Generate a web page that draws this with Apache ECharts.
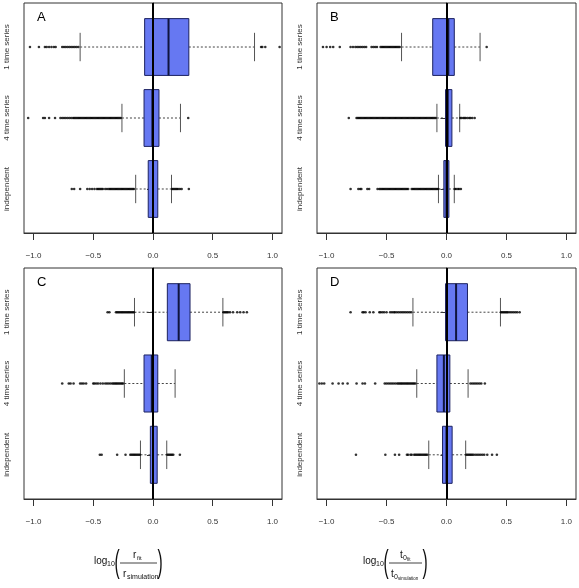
<!DOCTYPE html>
<html>
<head>
<meta charset="utf-8">
<script src="https://cdn.jsdelivr.net/npm/echarts@6/dist/echarts.min.js"></script>
<style>
  html, body { margin: 0; padding: 0; background: #fff; }
  #chart { width: 579px; height: 588px; }
</style>
</head>
<body>
<div id="chart"></div>
<script>
  // categories, top to bottom
  const categories = ['1 time series', '4 time series', 'independent']
  const panelNames = ['A', 'B', 'C', 'D']
  const xTicks = [-1, -0.5, 0, 0.5, 1]

  // box stats per category: [low whisker, Q1, median, Q3, high whisker]
  const boxA = [[-0.61, -0.07, 0.13, 0.30, 0.85], [-0.26, -0.075, -0.005, 0.05, 0.23], [-0.145, -0.04, 0.0, 0.04, 0.155]]
  const boxB = [[-0.375, -0.115, 0.015, 0.065, 0.28], [-0.08, -0.008, 0.01, 0.045, 0.11], [-0.067, -0.022, 0.0, 0.02, 0.065]]
  const boxC = [[-0.155, 0.12, 0.215, 0.31, 0.585], [-0.24, -0.075, -0.01, 0.04, 0.185], [-0.105, -0.022, 0.0, 0.035, 0.115]]
  const boxD = [[-0.28, -0.008, 0.08, 0.175, 0.45], [-0.248, -0.08, -0.022, 0.028, 0.18], [-0.148, -0.033, 0.0, 0.047, 0.16]]

  // outliers, one list per category
  const outA1 = [-1.03, -0.955, -0.905, -0.89, -0.87, -0.85, -0.83, -0.815, -0.76, -0.745, -0.73, -0.715, -0.70, -0.685, -0.67, -0.655, -0.64, -0.625, 0.905, 0.915, 0.94, 1.06]
  const outA2 = [-1.045, -0.92, -0.905, -0.87, -0.82, -0.775, -0.76, -0.745, -0.73, -0.715, -0.70, -0.685, -0.67, -0.66, -0.65, -0.64, -0.63, -0.62, -0.61, -0.60, -0.59, -0.58, -0.57, -0.56, -0.55, -0.54, -0.53, -0.52, -0.51, -0.50, -0.49, -0.48, -0.47, -0.46, -0.45, -0.44, -0.43, -0.42, -0.41, -0.40, -0.39, -0.38, -0.37, -0.36, -0.35, -0.34, -0.33, -0.32, -0.31, -0.30, -0.29, -0.28, -0.27, 0.295]
  const outA3 = [-0.68, -0.66, -0.61, -0.55, -0.53, -0.51, -0.49, -0.47, -0.46, -0.45, -0.44, -0.43, -0.42, -0.40, -0.385, -0.37, -0.36, -0.35, -0.34, -0.33, -0.32, -0.31, -0.30, -0.29, -0.28, -0.27, -0.26, -0.25, -0.24, -0.23, -0.22, -0.21, -0.20, -0.19, -0.18, -0.17, -0.16, 0.16, 0.17, 0.18, 0.19, 0.20, 0.21, 0.225, 0.24, 0.30]
  const outB1 = [-1.03, -1.00, -0.97, -0.945, -0.89, -0.80, -0.78, -0.76, -0.745, -0.73, -0.715, -0.70, -0.685, -0.67, -0.625, -0.61, -0.595, -0.58, -0.55, -0.54, -0.53, -0.52, -0.51, -0.50, -0.49, -0.48, -0.47, -0.46, -0.45, -0.44, -0.43, -0.42, -0.41, -0.40, -0.39, 0.335]
  const outB2 = [-0.815, -0.75, -0.74, -0.73, -0.72, -0.71, -0.70, -0.69, -0.68, -0.67, -0.66, -0.65, -0.64, -0.63, -0.62, -0.61, -0.60, -0.59, -0.58, -0.57, -0.56, -0.55, -0.54, -0.53, -0.52, -0.51, -0.50, -0.49, -0.48, -0.47, -0.46, -0.45, -0.44, -0.43, -0.42, -0.41, -0.40, -0.39, -0.38, -0.37, -0.36, -0.35, -0.34, -0.33, -0.32, -0.31, -0.30, -0.29, -0.28, -0.27, -0.26, -0.25, -0.24, -0.23, -0.22, -0.21, -0.20, -0.19, -0.18, -0.17, -0.16, -0.15, -0.14, -0.13, -0.12, -0.11, -0.10, -0.09, 0.115, 0.125, 0.14, 0.15, 0.16, 0.175, 0.19, 0.20, 0.215, 0.235]
  const outB3 = [-0.80, -0.735, -0.72, -0.71, -0.66, -0.645, -0.575, -0.56, -0.55, -0.54, -0.53, -0.52, -0.51, -0.50, -0.49, -0.48, -0.47, -0.46, -0.45, -0.44, -0.43, -0.42, -0.41, -0.40, -0.39, -0.38, -0.37, -0.36, -0.35, -0.34, -0.33, -0.32, -0.29, -0.28, -0.27, -0.26, -0.25, -0.24, -0.23, -0.22, -0.21, -0.20, -0.19, -0.18, -0.17, -0.16, -0.15, -0.14, -0.13, -0.12, -0.11, -0.10, -0.09, -0.08, -0.07, 0.07, 0.08, 0.095, 0.105, 0.12]
  const outC1 = [-0.38, -0.365, -0.31, -0.30, -0.29, -0.28, -0.27, -0.26, -0.25, -0.24, -0.23, -0.22, -0.21, -0.20, -0.19, -0.18, -0.17, -0.16, 0.59, 0.60, 0.61, 0.62, 0.63, 0.645, 0.67, 0.705, 0.73, 0.758, 0.786]
  const outC2 = [-0.76, -0.705, -0.69, -0.665, -0.61, -0.595, -0.58, -0.56, -0.50, -0.49, -0.475, -0.46, -0.44, -0.42, -0.40, -0.385, -0.37, -0.355, -0.34, -0.33, -0.32, -0.31, -0.30, -0.29, -0.28, -0.27, -0.26, -0.25]
  const outC3 = [-0.445, -0.43, -0.30, -0.23, -0.19, -0.18, -0.17, -0.16, -0.15, -0.14, -0.13, -0.12, -0.11, 0.12, 0.13, 0.14, 0.15, 0.16, 0.17, 0.225]
  const outD1 = [-0.80, -0.70, -0.69, -0.675, -0.64, -0.61, -0.56, -0.55, -0.535, -0.52, -0.50, -0.47, -0.455, -0.44, -0.43, -0.415, -0.40, -0.385, -0.37, -0.355, -0.34, -0.325, -0.31, -0.295, 0.455, 0.465, 0.475, 0.485, 0.495, 0.505, 0.515, 0.53, 0.545, 0.56, 0.575, 0.59, 0.61]
  const outD2 = [-1.06, -1.04, -1.02, -0.95, -0.90, -0.865, -0.825, -0.75, -0.70, -0.68, -0.595, -0.515, -0.50, -0.485, -0.47, -0.455, -0.44, -0.425, -0.41, -0.40, -0.39, -0.38, -0.37, -0.36, -0.35, -0.34, -0.33, -0.32, -0.31, -0.30, -0.29, -0.28, -0.27, -0.26, 0.20, 0.215, 0.23, 0.245, 0.26, 0.275, 0.29, 0.32]
  const outD3 = [-0.755, -0.51, -0.43, -0.395, -0.33, -0.32, -0.30, -0.29, -0.27, -0.26, -0.25, -0.24, -0.23, -0.22, -0.21, -0.20, -0.19, -0.18, -0.17, -0.16, 0.165, 0.175, 0.185, 0.195, 0.205, 0.215, 0.225, 0.24, 0.255, 0.27, 0.285, 0.30, 0.315, 0.34, 0.38, 0.42]

  const boxes = [boxA, boxB, boxC, boxD]
  const outliers = [[outA1, outA2, outA3], [outB1, outB2, outB3], [outC1, outC2, outC3], [outD1, outD2, outD3]]

  const FONT = 'Liberation Sans'
  const grids = [
    {left: 24, top: 3, width: 258, height: 230},
    {left: 317, top: 3, width: 259, height: 230},
    {left: 24, top: 268, width: 258, height: 231},
    {left: 317, top: 268, width: 259, height: 231}
  ]

  function renderBox (params, api) {
    let y = api.value(0)
    let lo = api.coord([api.value(1), y])
    let q1 = api.coord([api.value(2), y])
    let md = api.coord([api.value(3), y])
    let q3 = api.coord([api.value(4), y])
    let hi = api.coord([api.value(5), y])
    let h = Math.abs(api.size([0, 0.8])[1])
    let cap = Math.abs(api.size([0, 0.4])[1])
    let cy = lo[1]
    let whisker = {stroke: '#444', lineWidth: 1, lineDash: [2, 2]}
    let capStyle = {stroke: '#555', lineWidth: 1}
    return {
      type: 'group',
      children: [
        {type: 'line', shape: {x1: lo[0], y1: cy, x2: q1[0], y2: cy}, style: whisker},
        {type: 'line', shape: {x1: q3[0], y1: cy, x2: hi[0], y2: cy}, style: whisker},
        {type: 'line', shape: {x1: lo[0], y1: cy - cap / 2, x2: lo[0], y2: cy + cap / 2}, style: capStyle},
        {type: 'line', shape: {x1: hi[0], y1: cy - cap / 2, x2: hi[0], y2: cy + cap / 2}, style: capStyle},
        {type: 'rect', shape: {x: q1[0], y: cy - h / 2, width: q3[0] - q1[0], height: h},
          style: {fill: '#6678f2', stroke: '#1c2260', lineWidth: 1}},
        {type: 'line', shape: {x1: md[0], y1: cy - h / 2, x2: md[0], y2: cy + h / 2},
          style: {stroke: '#10153f', lineWidth: 2}}
      ]
    }
  }

  let xAxes = [], yAxes = [], series = []
  grids.forEach((g, i) => {
    xAxes.push({
      type: 'value', gridIndex: i, min: -1.08, max: 1.08,
      axisLine: {show: true, lineStyle: {color: '#333'}},
      axisTick: {show: true, length: 7, customValues: xTicks, lineStyle: {color: '#333'}},
      axisLabel: {customValues: xTicks, margin: 19, fontSize: 8, fontFamily: FONT, color: '#333',
        formatter: v => v.toFixed(1).replace('-', '\u2212')},
      splitLine: {show: false}
    })
    yAxes.push({
      type: 'value', gridIndex: i, min: 0.38, max: 3.62, inverse: true,
      axisLine: {show: true, lineStyle: {color: '#333'}},
      axisTick: {show: true, length: 6, customValues: [1, 2, 3], lineStyle: {color: '#333'}},
      axisLabel: {customValues: [1, 2, 3], rotate: 90, margin: 13, fontSize: 8, fontFamily: FONT, color: '#333',
        formatter: v => categories[Math.round(v) - 1] || ''},
      splitLine: {show: false}
    })
    series.push({
      type: 'custom', xAxisIndex: i, yAxisIndex: i,
      renderItem: renderBox,
      encode: {x: [1, 2, 3, 4, 5], y: 0},
      data: boxes[i].map((b, k) => [k + 1].concat(b)),
      z: 2
    })
    let pts = []
    outliers[i].forEach((list, k) => list.forEach(v => pts.push([v, k + 1])))
    series.push({
      type: 'scatter', xAxisIndex: i, yAxisIndex: i,
      symbolSize: 2.6, itemStyle: {color: '#000'},
      data: pts, z: 3,
      markLine: {
        silent: true, symbol: 'none', label: {show: false},
        lineStyle: {color: '#000', width: 2, type: 'solid'},
        data: [{xAxis: 0}]
      }
    })
  })

  let graphics = panelNames.map((name, i) => ({
    type: 'text', x: grids[i].left + 13, y: grids[i].top + 14,
    style: {text: name, fontSize: 13, fontFamily: FONT, fill: '#000', textVerticalAlign: 'middle', verticalAlign: 'middle'}
  }))

  function txt (x, y, text, size, align) {
    return {type: 'text', x: x, y: y,
      style: {text: text, fontSize: size, fontFamily: FONT, fill: '#111',
        textAlign: align || 'left', align: align || 'left', textVerticalAlign: 'middle', verticalAlign: 'middle'}}
  }
  function paren (x, y, text) {
    return {type: 'text', x: x, y: y, scaleX: 0.5,
      style: {text: text, fontSize: 31, fontFamily: FONT, fill: '#111',
        textAlign: 'center', align: 'center', textVerticalAlign: 'middle', verticalAlign: 'middle'}}
  }
  function bar (x1, x2, y) {
    return {type: 'line', shape: {x1: x1, y1: y, x2: x2, y2: y}, style: {stroke: '#111', lineWidth: 0.8}}
  }
  // x label for r
  graphics.push(txt(94, 561, 'log', 10), txt(107, 564, '10', 7), paren(117, 563, '('),
    bar(120, 157, 563), txt(133, 555, 'r', 10), txt(137, 558, 'fit', 6),
    txt(123, 574, 'r', 10), txt(127, 577, 'simulation', 7), paren(160, 563, ')'))
  // x label for t0
  graphics.push(txt(363, 561, 'log', 10), txt(376, 564, '10', 7), paren(386, 563, '('),
    bar(389, 422, 563), txt(400, 555, 't', 10), txt(403, 558, '0', 7), txt(407, 560, 'fit', 4.5),
    txt(391, 574, 't', 10), txt(394, 577, '0', 7), txt(398, 579, 'simulation', 4.5), paren(425, 563, ')'))

  let chart = echarts.init(document.getElementById('chart'))
  chart.setOption({
    animation: false,
    grid: grids.map(g => Object.assign({show: true, borderColor: '#333', borderWidth: 1, backgroundColor: 'transparent'}, g)),
    xAxis: xAxes,
    yAxis: yAxes,
    series: series,
    graphic: graphics
  })
</script>
</body>
</html>
